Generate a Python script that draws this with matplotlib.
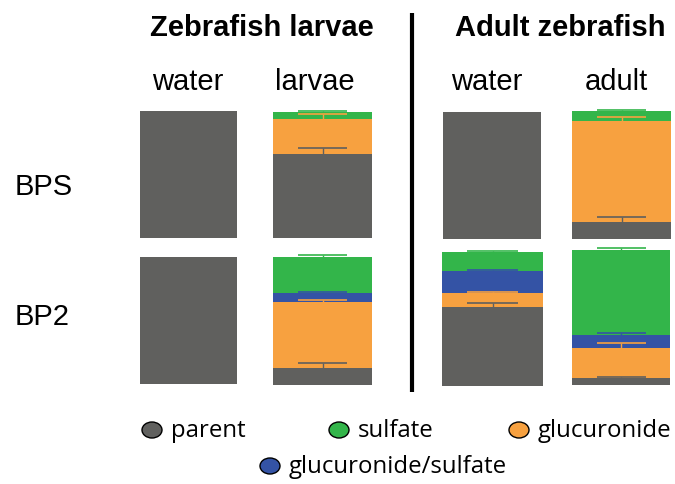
import numpy as np
import matplotlib.pyplot as plt
from matplotlib.patches import Ellipse

# percent of each metabolite, order: water, larvae, water, adult
conditions = ["water", "larvae", "water", "adult"]
compounds = ["BPS", "BP2"]

bps_parent = [100, 66.7, 100, 13.3]
bps_gluc = [0, 27.8, 0, 78.9]
bps_glucsulf = [0, 0, 0, 0]
bps_sulf = [0, 5.5, 0, 7.8]

bps_parent_err = [0, 4.8, 0, 3.9]
bps_gluc_err = [0, 4.0, 0, 3.1]
bps_glucsulf_err = [0, 0, 0, 0]
bps_sulf_err = [0, 1.0, 0, 0.8]

bp2_parent = [100, 13.3, 59.0, 5.2]
bp2_gluc = [0, 51.6, 10.4, 22.2]
bp2_glucsulf = [0, 7.0, 16.4, 9.6]
bp2_sulf = [0, 28.1, 14.2, 63.0]

bp2_parent_err = [0, 3.9, 3.0, 0.7]
bp2_gluc_err = [0, 1.6, 0.7, 3.7]
bp2_glucsulf_err = [0, 0.5, 0.7, 1.5]
bp2_sulf_err = [0, 1.6, 0.7, 1.5]

legend_labels = ["parent", "sulfate", "glucuronide", "glucuronide/sulfate"]

C_PARENT = "#60605e"
C_GLUC = "#f7a140"
C_GLUCSULF = "#3453a5"
C_SULF = "#33b54a"

W, H = 675, 485

# bar boxes in pixels (left, top, right, bottom)
boxes = {
    "BPS": [(140, 112, 237, 239), (273, 113, 372, 239), (443, 113, 541, 240), (572, 112, 671, 240)],
    "BP2": [(140, 258, 237, 385), (273, 258, 372, 386), (442, 253, 543, 387), (572, 251, 670, 386)],
}

data = {
    "BPS": ([bps_parent, bps_gluc, bps_glucsulf, bps_sulf],
            [bps_parent_err, bps_gluc_err, bps_glucsulf_err, bps_sulf_err]),
    "BP2": ([bp2_parent, bp2_gluc, bp2_glucsulf, bp2_sulf],
            [bp2_parent_err, bp2_gluc_err, bp2_glucsulf_err, bp2_sulf_err]),
}
colors = [C_PARENT, C_GLUC, C_GLUCSULF, C_SULF]

fig = plt.figure(figsize=(W / 100, H / 100), dpi=100)


def px_rect(l, t, r, b):
    return [l / W, 1 - b / H, (r - l) / W, (b - t) / H]


for comp in compounds:
    series, errs = data[comp]
    for i, box in enumerate(boxes[comp]):
        ax = fig.add_axes(px_rect(*box))
        bottom = 0
        tops = []
        for vals, col in zip(series, colors):
            v = vals[i]
            if v > 0:
                ax.bar(0, v, width=1, bottom=bottom, color=col, linewidth=0)
            bottom += v
            tops.append(bottom)
        # upward error bars at the top of each segment
        for vals, e, col, top in zip(series, errs, colors, tops):
            if vals[i] > 0 and e[i] > 0:
                ax.vlines(0, top, top + e[i], color=col, lw=1.0, clip_on=False, zorder=3)
                ax.hlines(top + e[i], -0.25, 0.25, color=col, lw=1.2, clip_on=False, zorder=3)
        ax.set_xlim(-0.5, 0.5)
        ax.set_ylim(0, 100)
        ax.axis("off")

# headings
fig.text(262 / W, 1 - 28 / H, "Zebrafish larvae", ha="center", va="center",
         fontsize=21, fontweight="bold", family="Liberation Sans")
fig.text(560 / W, 1 - 28 / H, "Adult zebrafish", ha="center", va="center",
         fontsize=21, fontweight="bold", family="Liberation Sans")
for x, lab in zip([188, 315, 487, 616], conditions):
    fig.text(x / W, 1 - 90 / H, lab, ha="center", va="baseline",
             fontsize=21, family="Liberation Sans")
fig.text(15 / W, 1 - 195 / H, "BPS", ha="left", va="baseline",
         fontsize=21, family="Liberation Sans")
fig.text(15 / W, 1 - 325 / H, "BP2", ha="left", va="baseline",
         fontsize=21, family="Liberation Sans")

# overlay for divider and legend
ov = fig.add_axes([0, 0, 1, 1], zorder=-1)
ov.set_xlim(0, W)
ov.set_ylim(H, 0)
ov.axis("off")
ov.plot([412, 412], [14, 393], color="black", lw=3, solid_capstyle="butt")

legend_pos = [(152, 431), (339, 431), (519, 431), (270, 467)]
legend_colors = [C_PARENT, C_SULF, C_GLUC, C_GLUCSULF]
for (x, y), lab, col in zip(legend_pos, legend_labels, legend_colors):
    ov.add_patch(Ellipse((x, y), 20, 16, facecolor=col, edgecolor="black", lw=1))
    ov.text(x + 19, y, lab, ha="left", va="center", fontsize=17.3, family="Open Sans")

fig.savefig("out.png", dpi=100)
